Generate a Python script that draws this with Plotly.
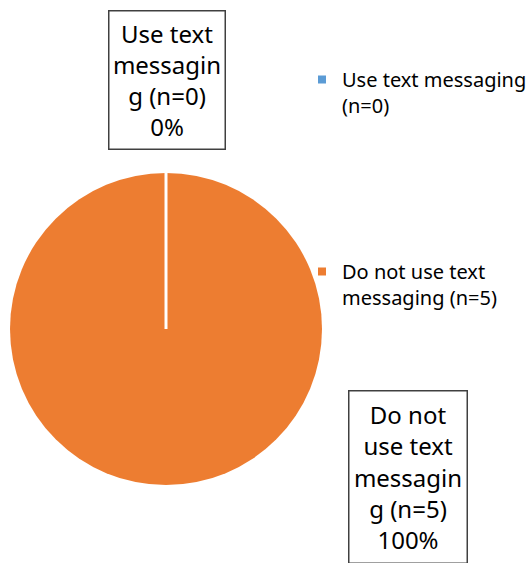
import textwrap
import plotly.graph_objects as go

labels = ["Use text messaging (n=0)", "Do not use text messaging (n=5)"]
legend_labels = ["Use text messaging<br>(n=0)", "Do not use text<br>messaging (n=5)"]
values = [0, 5]
colors = ["#5B9BD5", "#ED7D31"]

W, H = 531, 563
total = sum(values)
pcts = [round(100 * v / total) for v in values]

FONT = "Noto Sans"
PIE_X = [10 / W, 322 / W]
PIE_Y = [1 - 485 / H, 1 - 173 / H]

fig = go.Figure()
fig.add_trace(go.Pie(
    labels=labels, values=values, sort=False, direction="clockwise", rotation=0,
    marker=dict(colors=colors, line=dict(color="white", width=0)),
    textinfo="none", hoverinfo="label+percent", showlegend=False,
    domain=dict(x=PIE_X, y=PIE_Y),
))

# legend entries (one per category)
for i, (lab, col) in enumerate(zip(legend_labels, colors)):
    fig.add_trace(go.Scatter(
        x=[None], y=[None], mode="markers", name=lab, legendgroup=str(i),
        marker=dict(symbol="square", size=8, color=col),
    ))

# white separator where the zero-size slice starts (12 o'clock)
cx = (PIE_X[0] + PIE_X[1]) / 2
fig.add_shape(type="line", xref="paper", yref="paper",
              x0=cx, x1=cx, y0=(PIE_Y[0] + PIE_Y[1]) / 2, y1=PIE_Y[1] + 0.002,
              line=dict(color="white", width=3))

# boxed data labels
label_pos = [(166.5 / W, 1 - 79.5 / H, 111, 133), (407.5 / W, 1 - 476.5 / H, 113, 167)]
for lab, p, (ax, ay, w, h) in zip(labels, pcts, label_pos):
    txt = "<br>".join(textwrap.wrap(lab, width=8)) + f"<br>{p}%"
    fig.add_annotation(
        x=ax, y=ay, xref="paper", yref="paper", xanchor="center", yanchor="middle",
        text=txt, showarrow=False,
        font=dict(family=FONT, size=24, color="#000000"),
        bordercolor="#404040", borderwidth=1.5, borderpad=2,
        width=w, height=h, bgcolor="white", align="center", valign="middle",
    )

fig.update_layout(
    width=W, height=H, margin=dict(l=0, r=0, t=0, b=0, autoexpand=False),
    paper_bgcolor="white", plot_bgcolor="white",
    xaxis=dict(visible=False), yaxis=dict(visible=False),
    legend=dict(x=302 / W, y=1 - 60 / H, xanchor="left", yanchor="top",
                font=dict(family=FONT, size=20, color="#000000"),
                tracegroupgap=137, valign="top", itemwidth=30,
                bgcolor="rgba(0,0,0,0)"),
    showlegend=True,
)
fig.write_html("out.html", config={"displayModeBar": False},
               post_script="document.body.style.margin='0';")
